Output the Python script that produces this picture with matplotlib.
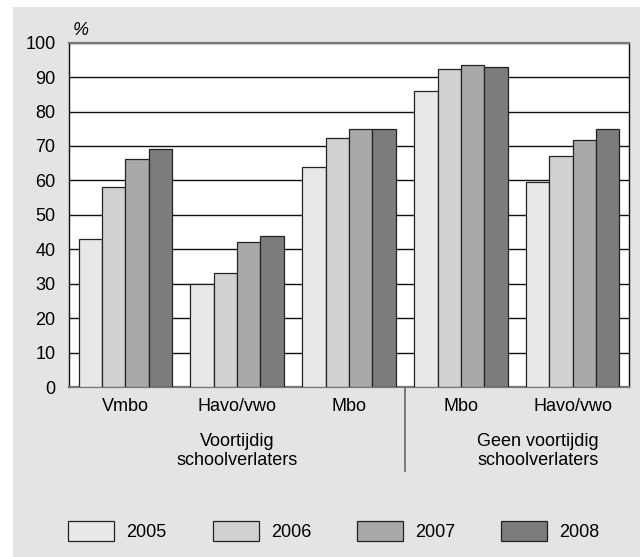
import matplotlib
matplotlib.use("Agg")
import matplotlib.pyplot as plt
from matplotlib.patches import Rectangle
import matplotlib.transforms as mtransforms
import numpy as np

plt.rcParams['font.family'] = ['Liberation Sans', 'DejaVu Sans']

categories = ["Vmbo", "Havo/vwo", "Mbo", "Mbo", "Havo/vwo"]
years = ["2005", "2006", "2007", "2008"]
v2005 = [42.9, 29.9, 64.0, 86.1, 59.4]
v2006 = [58.2, 33.0, 72.2, 92.3, 67.1]
v2007 = [66.2, 42.2, 74.9, 93.4, 71.7]
v2008 = [69.1, 43.9, 74.9, 92.9, 74.8]
series = [v2005, v2006, v2007, v2008]
colors = ["#e8e8e8", "#d0d1d3", "#a8a9ab", "#7b7c7e"]
group_labels = ["Voortijdig\nschoolverlaters", "Geen voortijdig\nschoolverlaters"]

fig = plt.figure(figsize=(6.4, 5.57), dpi=100)
bg = Rectangle((13/640, 0), 1, (557-7)/557, transform=fig.transFigure,
               facecolor="#e3e4e3", edgecolor="none", zorder=-10)
fig.add_artist(bg)

ax = fig.add_axes([69.3/640, 170/557, 559.4/640, 344.3/557])
ax.set_zorder(1)
ax.set_facecolor("white")
x = np.arange(len(categories))
w = 0.2086
handles = []
for i, (vals, c) in enumerate(zip(series, colors)):
    b = ax.bar(x + (i - 1.5) * w, vals, width=w, color=c, edgecolor="#222222",
               linewidth=0.9, zorder=3, label=years[i])
    handles.append(b)

ax.set_xlim(-0.5, 4.5)
ax.set_ylim(0, 100)
ax.set_yticks(range(0, 101, 10))
ax.yaxis.grid(True, color="#111111", linewidth=1.0, zorder=1)
ax.set_axisbelow(True)
ax.tick_params(axis="y", length=0, pad=10, labelsize=13)
ax.set_xticks(x)
ax.set_xticklabels(categories, fontsize=13)
ax.tick_params(axis="x", length=0, pad=8)
for s in ["left", "right"]:
    ax.spines[s].set_color("#111111")
    ax.spines[s].set_linewidth(1.0)
for s in ["top", "bottom"]:
    ax.spines[s].set_color("#777777")
    ax.spines[s].set_linewidth(1.6)

ax.text(0.007, 1.012, "%", transform=ax.transAxes, fontsize=13, style="italic",
        ha="left", va="bottom")

ax.plot([2.5, 2.5], [0, -0.244], transform=ax.get_xaxis_transform(),
        color="#666666", linewidth=1.2, clip_on=False)

trans = mtransforms.blended_transform_factory(ax.transData, fig.transFigure)
ax.text(1.0, 1 - 451.2/557, group_labels[0], transform=trans, ha="center",
        va="center", fontsize=13, linespacing=1.17)
ax.text(3.69, 1 - 451.2/557, group_labels[1], transform=trans, ha="center",
        va="center", fontsize=13, linespacing=1.17)

fig.legend(handles=handles, labels=years, loc="center", ncol=4, frameon=False,
           bbox_to_anchor=(334/640, 1 - 531/557), fontsize=13,
           handlelength=2.55, handleheight=1.3, handletextpad=0.67,
           columnspacing=2.55)

fig.savefig("out.png", dpi=100, facecolor="white")
